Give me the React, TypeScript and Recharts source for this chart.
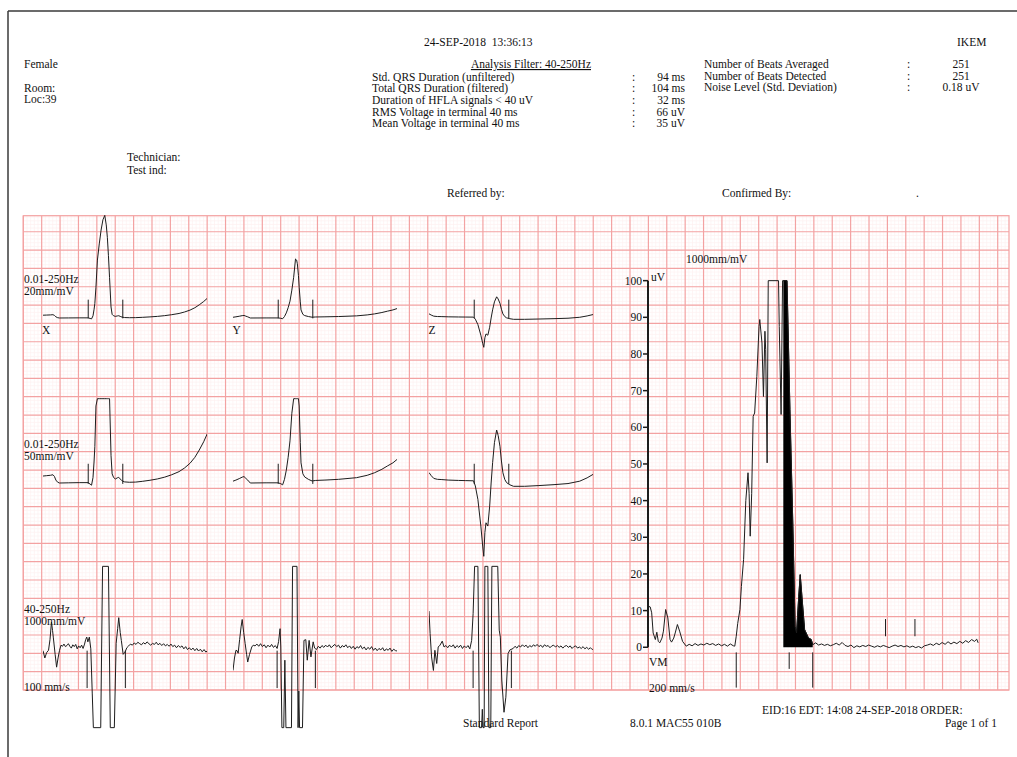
import {
  LineChart,
  ComposedChart,
  Line,
  Area,
  XAxis,
  YAxis,
  ReferenceLine,
} from "recharts";

const SERIF = '"Liberation Serif", "Times New Roman", serif';
const INK = "#1c1c1c";
const GRID_MAJOR = "#f3a2a2";
const GRID_MINOR = "#fdf0f0";

// page calibration (one big square = 5 mm)
const PX_X = 3.677; // px per mm, horizontal
const PX_Y = 3.666; // px per mm, vertical
const MS_100 = (100 * PX_X) / 1000; // 100 mm/s
const MS_200 = (200 * PX_X) / 1000; // 200 mm/s

const SPAN = 447; // ms shown per lead
const VM_SPAN = 450;

type Pt = [number, number];

// averaged beat, 0.01-250Hz, [ms, mV]
const X_STD: Pt[] = [
  [0, 0.038], [10, 0.04], [20, 0.042], [27, 0.045], [31, 0.036], [35, 0.016], [40, 0.004], [45, 0],
  [70, 0.001], [100, 0.002], [123, 0.002], [128, -0.006], [132, -0.012], [136, 0.03], [139, 0.12],
  [141, 0.2], [144, 0.42], [148, 0.79], [153, 1.01], [158, 1.2], [163, 1.34], [168, 1.4], [172, 1.27],
  [175, 1.1], [178, 0.85], [181, 0.55], [185, 0.15], [188, 0.05], [192, 0.03], [197, 0.022], [202, 0.028],
  [206, 0.031], [210, 0.022], [215, 0.012], [222, 0.006], [235, 0.004], [252, 0.005], [270, 0.009],
  [291, 0.015], [311, 0.022], [331, 0.032], [350, 0.045], [370, 0.062], [385, 0.082], [400, 0.108],
  [413, 0.14], [425, 0.18], [437, 0.225], [447, 0.27],
];
const Y_STD: Pt[] = [
  [0, 0.01], [8, 0.016], [17, 0.024], [25, 0.032], [30, 0.035], [35, 0.025], [40, 0.016], [47, 0],
  [90, 0.001], [123, 0.001], [130, -0.004], [135, -0.01], [140, 0.02], [145, 0.07], [150, 0.14],
  [155, 0.23], [160, 0.38], [165, 0.555], [170, 0.805], [173, 0.79], [175, 0.74], [178, 0.58], [180, 0.42],
  [183, 0.22], [185, 0.11], [190, 0.05], [195, 0.033], [205, 0.02], [215, 0.011], [225, 0.014],
  [250, 0.016], [287, 0.02], [336, 0.029], [365, 0.042], [385, 0.056], [405, 0.075], [420, 0.093],
  [435, 0.11], [447, 0.13],
];
const Z_STD: Pt[] = [
  [0, 0.057], [6, 0.04], [13, 0.025], [23, 0.02], [33, 0.019], [52, 0.016], [80, 0.014], [100, 0.013],
  [121, 0.012], [126, -0.016], [133, -0.09], [141, -0.235], [146, -0.344], [149, -0.4], [152, -0.27],
  [155, -0.217], [160, -0.235], [165, -0.126], [169, 0], [173, 0.111], [178, 0.22], [184, 0.289],
  [188, 0.26], [193, 0.2], [197, 0.12], [201, 0.056], [206, 0.02], [211, 0.002], [220, -0.01],
  [230, -0.018], [260, -0.018], [299, -0.014], [340, -0.009], [378, -0.003], [410, 0.01], [430, 0.028],
  [447, 0.048],
];

// averaged beat, 40-250Hz, [ms, uV]
const X_HF: Pt[] = [
  [0, -1], [5, -3], [10, -1.5], [15, -0.9], [19, 2], [23, 6.8], [26, 4.5], [28, 2.7], [33, -2], [37, -5.5],
  [41, -3], [45, -0.9], [49, 0.5], [53, 0.2], [57, 0.8], [61, 0.1], [65, 0.4], [69, 0.9], [73, 0.2],
  [77, -0.3], [81, 0.6], [85, 0.1], [89, 0.7], [93, -0.5], [97, 0.3], [101, -0.2], [105, 0.5], [109, -0.4],
  [113, 0.8], [116, 2], [119, 2.7], [122, 1.4], [126, 2.7], [130, -0.5], [134, -12.8], [137, -22],
  [157, -22], [162, 22], [178, 22], [183, -22], [194, -22], [199, 1], [203, 5], [206, 8], [210, 4],
  [213, 1.8], [218, -2], [223, -1.4], [228, -0.2], [233, 0.3], [238, 0.8], [243, 0.5], [248, 1.1],
  [253, 0.7], [258, 1.3], [263, 0.9], [268, 0.6], [273, 1.2], [278, 0.8], [283, 1.4], [288, 0.9],
  [293, 0.5], [298, 1], [303, 0.7], [308, 1.3], [313, 0.6], [318, 1], [323, 0.4], [328, 0.9], [333, 0.3],
  [338, 0.7], [343, 0.2], [348, 0.8], [353, 0.1], [358, 0.5], [363, -0.2], [368, 0.4], [373, -0.1],
  [378, 0.3], [383, -0.5], [388, 0.1], [393, -0.7], [398, -0.2], [403, -0.8], [408, -0.3], [413, -1],
  [418, -0.4], [423, -1.1], [428, -0.6], [433, -1.3], [438, -0.7], [443, -1.4], [447, -1],
];
const Y_HF: Pt[] = [
  [0, -6.4], [4, -3], [8, -0.9], [11, -1], [14, -1.7], [18, 2], [22, 5.5], [25, 7.5], [29, 4], [33, 1],
  [37, -2], [40, -4.1], [45, -2], [51, 0], [55, 0.5], [60, 0.3], [65, 0.8], [70, 0.2], [75, 0.9], [80, 0.1],
  [85, 0.6], [90, -0.2], [95, 0.5], [100, 0], [105, 0.7], [110, -0.1], [115, 0.4], [120, -0.4], [124, 1.5],
  [128, 5], [130, 0], [133, -22], [138, -22], [141, -3.6], [144, -22], [159, -22], [162, 22], [174, 22],
  [177, -22], [179, -12], [181, -22], [189, -22], [193, 1.8], [198, 2], [202, -3.6], [207, 1.8],
  [212, -2.7], [218, 1.4], [222, -0.3], [227, -0.7], [232, 0.2], [237, -0.3], [242, 0.4], [247, -0.1],
  [252, 0.5], [257, 0], [262, 0.6], [267, -0.2], [272, 0.3], [277, 0.7], [282, 0.1], [287, 0.5],
  [292, -0.3], [297, 0.4], [302, 0], [307, 0.6], [312, -0.2], [317, 0.3], [322, -0.4], [327, 0.2],
  [332, -0.6], [337, 0.1], [342, -0.3], [347, 0.4], [352, -0.5], [357, 0], [362, -0.8], [367, -0.1],
  [372, -0.6], [377, 0.1], [382, -0.9], [387, -0.3], [392, -1], [397, -0.4], [402, -0.8], [407, -0.2],
  [412, -1.1], [417, -0.5], [422, -0.9], [427, -0.3], [432, -1.2], [437, -0.6], [442, -1], [447, -1.1],
];
const Z_HF: Pt[] = [
  [0, 9.8], [3, 3.7], [7, -2.7], [12, -6.4], [16, -0.9], [21, -4.5], [25, 0], [30, 0.5], [36, 1.6], [41, 0],
  [46, 0.4], [51, -0.2], [56, 0.5], [61, 0], [66, 0.6], [71, -0.3], [76, 0.4], [81, -0.1], [86, 0.5],
  [91, -0.4], [96, 0.3], [101, -0.2], [106, 0.4], [111, -0.5], [116, 1.8], [120, 9.1], [124, 22],
  [133, 22], [137, -22], [143, -22], [145, -17], [147, -22], [150, -22], [152, 22], [160, 22], [163, -22],
  [168, -22], [171, 22], [187, 22], [191, 4.6], [194, 2.7], [198, -9], [204, -17.8], [209, -13.7],
  [215, -1.8], [220, -0.8], [229, -0.4], [234, 0.2], [239, -0.3], [244, 0.4], [249, 0], [254, 0.6],
  [259, 0.1], [264, 0.5], [269, -0.2], [274, 0.4], [279, 0], [284, 0.6], [289, 0.2], [294, 0.7],
  [299, 0.1], [304, 0.5], [309, -0.1], [314, 0.6], [319, 0.2], [324, 0.4], [329, -0.2], [334, 0.3],
  [339, 0.5], [344, 0], [349, 0.4], [354, -0.1], [359, 0.3], [364, -0.3], [369, 0.2], [374, 0.4],
  [379, -0.1], [384, 0.3], [389, -0.4], [394, 0.1], [399, 0.3], [404, -0.3], [409, 0], [414, -0.4],
  [419, 0.1], [424, -0.5], [429, -0.1], [434, -0.6], [439, -0.2], [444, -0.7], [447, -0.5],
];

// filtered vector magnitude, [ms, uV] (plotted up to 100 uV)
const VM: Pt[] = [
  [0, 11.2], [3, 11], [5, 9.4], [7, 3.9], [10, 2.1], [12, 4.1], [14, 1.6], [16, 1.2], [19, 2.5], [21, 4.4],
  [24, 10.3], [27, 8], [30, 2.1], [32, 1.4], [35, 2.5], [37, 3.9], [40, 6.2], [43, 4.4], [47, 1.6],
  [52, 0.3], [56, 0.8], [60, 0.4], [64, 1], [68, 0.5], [72, 0.9], [76, 0.6], [80, 1.1], [84, 0.7], [88, 1],
  [92, 0.5], [96, 0.9], [100, 0.4], [104, 0.8], [108, 0.3], [112, 0.9], [116, 0.4], [118, 0.3], [120, 3],
  [122, 6.5], [125, 10.3], [127, 16.6], [130, 24], [133, 40], [136, 47.6], [137.5, 42], [139, 30.3],
  [141, 42], [143, 63], [145, 63.9], [148, 73.9], [151, 87.5], [152, 89.4], [155, 83], [157, 68.4],
  [159, 86.2], [160, 81.2], [162, 50.3], [163.5, 100], [177.5, 100], [178.5, 87.5], [181, 63.5],
  [183, 100], [184, 100], [189, 100], [193, 64.8], [197, 33], [200, 5.7], [202, 3.9], [205, 13.9],
  [207, 19.8], [210, 12.1], [213, 4.8], [218, 2.6], [222, 2.1], [224, 0.7], [228, 1.2], [232, 0.6],
  [236, 0.9], [240, 0.5], [244, 0.8], [248, 0.4], [252, 0.7], [256, 1.1], [260, 0.6], [264, 1.3],
  [268, 0.5], [272, 0.2], [276, 0.6], [280, -0.1], [284, 0.4], [288, 0.1], [292, 0.5], [296, 0.2],
  [300, 0.6], [304, 0.3], [308, 0], [312, 0.4], [316, 0.1], [320, 0.5], [324, 0.2], [328, -0.1],
  [332, 0.3], [336, 0.6], [340, 0.2], [344, 0.5], [348, 0.1], [352, 0.4], [356, 0], [360, 0.3],
  [364, -0.1], [368, 0.2], [372, -0.2], [376, 0.4], [380, 0.6], [384, 0.9], [388, 0.5], [392, 1.1],
  [396, 0.7], [400, 1.3], [404, 0.8], [408, 1.5], [412, 0.9], [416, 1.4], [420, 1], [424, 1.6],
  [428, 1.1], [432, 1.8], [436, 1.3], [440, 2.1], [444, 1.6], [447, 2.2], [449, 1.2],
];
const VM_TICKS = [0, 10, 20, 30, 40, 50, 60, 70, 80, 90, 100];

// measurement marks, ms
const STD_QRS = [123, 217];
const HF_QRS = [120, 224];
const LAS_START = 192; // HFLA < 40 uV
const TERM_START = 184; // last 40 ms
const NOISE_WIN = [323, 363];

const FILTER_ROWS = [
  ["Std. QRS Duration (unfiltered)", "94 ms"],
  ["Total QRS Duration (filtered)", "104 ms"],
  ["Duration of HFLA signals < 40 uV", "32 ms"],
  ["RMS Voltage in terminal 40 ms", "66 uV"],
  ["Mean Voltage in terminal 40 ms", "35 uV"],
];
const BEAT_ROWS = [
  ["Number of Beats Averaged", "251"],
  ["Number of Beats Detected", "251"],
  ["Noise Level (Std. Deviation)", "0.18 uV"],
];

const LEADS = [
  { name: "X", left: 42.5, std: X_STD, hf: X_HF },
  { name: "Y", left: 233, std: Y_STD, hf: Y_HF },
  { name: "Z", left: 429, std: Z_STD, hf: Z_HF },
];

const ROWS = [
  { key: "std20", zeroY: 317.5, mm: 20, clip: 99, hf: false, mark: [-0.005, 0.25] },
  { key: "std50", zeroY: 483.3, mm: 50, clip: 0.46, hf: false, mark: [-0.005, 0.105] },
  { key: "hf", zeroY: 646.7, mm: 1, clip: 22, hf: true, mark: [-1, -11.2] },
];

const G_LEFT = 23.3;
const G_RIGHT = 1009;
const G_TOP = 215.7;
const G_BOTTOM = 690;

const VM_LEFT = 648;
const VM_ZERO = 647.7;

function Trace({
  pts,
  left,
  zeroY,
  mm,
  clip,
  qrs,
  mark,
}: {
  pts: Pt[];
  left: number;
  zeroY: number;
  mm: number;
  clip: number;
  qrs: number[];
  mark: number[];
}) {
  const ppu = PX_Y * mm;
  const half = 130;
  const data = pts.map(([t, v]) => ({ t, v: Math.max(-clip, Math.min(clip, v)) }));
  return (
    <div style={{ position: "absolute", left, top: zeroY - half }}>
      <LineChart
        width={SPAN * MS_100}
        height={half * 2}
        data={data}
        margin={{ top: 0, right: 0, bottom: 0, left: 0 }}
      >
        <XAxis type="number" dataKey="t" domain={[0, SPAN]} hide allowDataOverflow />
        <YAxis type="number" domain={[-half / ppu, half / ppu]} hide allowDataOverflow />
        {qrs.map((q) => (
          <ReferenceLine
            key={q}
            segment={[
              { x: q, y: mark[0] },
              { x: q, y: mark[1] },
            ]}
            stroke={INK}
            strokeWidth={1}
            ifOverflow="visible"
          />
        ))}
        <Line
          type="linear"
          dataKey="v"
          stroke={INK}
          strokeWidth={1}
          dot={false}
          activeDot={false}
          isAnimationActive={false}
        />
      </LineChart>
    </div>
  );
}

function VectorMagnitude() {
  const top = 104;
  const bottom = -14;
  const axisW = 36;
  const data = VM.map(([t, v]) => ({
    t,
    vm: v,
    term: t >= TERM_START && t <= HF_QRS[1] ? v : null,
  }));
  const lowMarks: [number, number][] = [
    [HF_QRS[0], -11],
    [LAS_START, -5.9],
    [HF_QRS[1], -11],
  ];
  return (
    <div style={{ position: "absolute", left: VM_LEFT - axisW, top: VM_ZERO - top * PX_Y }}>
      <ComposedChart
        width={axisW + VM_SPAN * MS_200}
        height={(top - bottom) * PX_Y}
        data={data}
        margin={{ top: 0, right: 0, bottom: 0, left: 0 }}
      >
        <XAxis type="number" dataKey="t" domain={[0, VM_SPAN]} hide allowDataOverflow />
        <YAxis
          type="number"
          domain={[bottom, top]}
          allowDataOverflow
          ticks={VM_TICKS}
          interval={0}
          width={axisW}
          axisLine={false}
          tickSize={5}
          tickMargin={1}
          tickLine={{ stroke: INK, strokeWidth: 1.5 }}
          tick={{ fill: "#111", fontSize: 11.5, fontFamily: SERIF }}
        />
        <ReferenceLine
          segment={[
            { x: 0, y: 0 },
            { x: 0, y: 100 },
          ]}
          stroke={INK}
          strokeWidth={2}
          ifOverflow="visible"
        />
        <Area
          type="linear"
          dataKey="term"
          baseValue={0}
          stroke="#000"
          strokeWidth={1}
          fill="#000"
          fillOpacity={1}
          dot={false}
          activeDot={false}
          isAnimationActive={false}
        />
        <Line
          type="linear"
          dataKey="vm"
          stroke={INK}
          strokeWidth={1}
          dot={false}
          activeDot={false}
          isAnimationActive={false}
        />
        {lowMarks.map(([t, y]) => (
          <ReferenceLine
            key={"l" + t}
            segment={[
              { x: t, y: -1.4 },
              { x: t, y },
            ]}
            stroke={INK}
            strokeWidth={1}
            ifOverflow="visible"
          />
        ))}
        {NOISE_WIN.map((t) => (
          <ReferenceLine
            key={"n" + t}
            segment={[
              { x: t, y: 3 },
              { x: t, y: 7.7 },
            ]}
            stroke={INK}
            strokeWidth={1}
            ifOverflow="visible"
          />
        ))}
      </ComposedChart>
    </div>
  );
}

function Page() {
  const bigX = 5 * PX_X;
  const bigY = 5 * PX_Y;
  const vMinor: number[] = [];
  const hMinor: number[] = [];
  const vMajor: number[] = [];
  const hMajor: number[] = [];
  for (let x = G_LEFT, i = 0; x < G_RIGHT - 0.5; x += bigX / 5, i++) {
    if (i % 5 === 0) vMajor.push(x);
    else vMinor.push(x);
  }
  for (let y = G_BOTTOM, i = 0; y > G_TOP + 0.5; y -= bigY / 5, i++) {
    if (i % 5 === 0) hMajor.push(y);
    else hMinor.push(y);
  }
  const t = (x: number, y: number, s: string, anchor: "start" | "middle" | "end" = "start") => (
    <text key={s + x + y} x={x} y={y} textAnchor={anchor} style={{ whiteSpace: "pre" }}>
      {s}
    </text>
  );
  return (
    <svg
      width={1017}
      height={757}
      style={{ position: "absolute", left: 0, top: 0 }}
      fontFamily={SERIF}
      fontSize={11.5}
      fill="#111"
    >
      <line x1={8} y1={11} x2={1017} y2={11} stroke="#3a3a3a" strokeWidth={1.5} />
      <line x1={8} y1={11} x2={8} y2={757} stroke="#3a3a3a" strokeWidth={1.5} />

      {vMinor.map((x) => (
        <line key={"vm" + x} x1={x} y1={G_TOP} x2={x} y2={G_BOTTOM} stroke={GRID_MINOR} strokeWidth={0.7} />
      ))}
      {hMinor.map((y) => (
        <line key={"hm" + y} x1={G_LEFT} y1={y} x2={G_RIGHT} y2={y} stroke={GRID_MINOR} strokeWidth={0.7} />
      ))}
      {vMajor.map((x) => (
        <line key={"vM" + x} x1={x} y1={G_TOP} x2={x} y2={G_BOTTOM} stroke={GRID_MAJOR} strokeWidth={1.2} />
      ))}
      {hMajor.map((y) => (
        <line key={"hM" + y} x1={G_LEFT} y1={y} x2={G_RIGHT} y2={y} stroke={GRID_MAJOR} strokeWidth={1.2} />
      ))}
      <rect
        x={G_LEFT}
        y={G_TOP}
        width={G_RIGHT - G_LEFT}
        height={G_BOTTOM - G_TOP}
        fill="none"
        stroke={GRID_MAJOR}
        strokeWidth={1.2}
      />

      {t(424, 45.5, "24-SEP-2018  13:36:13")}
      {t(957, 45.5, "IKEM")}
      {t(24, 68, "Female")}
      {t(24, 91.5, "Room:")}
      {t(24, 102.5, "Loc:39")}
      <text x={591} y={68} textAnchor="end" style={{ textDecoration: "underline" }}>
        Analysis Filter: 40-250Hz
      </text>
      {FILTER_ROWS.map(([label, val], i) => (
        <g key={label}>
          {t(372, 80.5 + i * 11.7, label)}
          {t(632, 80.5 + i * 11.7, ":")}
          {t(685, 80.5 + i * 11.7, val, "end")}
        </g>
      ))}
      {BEAT_ROWS.map(([label, val], i) => (
        <g key={label}>
          {t(704, 68 + i * 11.7, label)}
          {t(907, 68 + i * 11.7, ":")}
          {t(961, 68 + i * 11.7, val, "middle")}
        </g>
      ))}
      {t(127, 161, "Technician:")}
      {t(127, 174, "Test ind:")}
      {t(447, 197, "Referred by:")}
      {t(722, 197, "Confirmed By:")}
      {t(916, 197, ".")}

      {t(24, 283, "0.01-250Hz")}
      {t(24, 295, "20mm/mV")}
      {LEADS.map((l) => t(l.left - 0.5, 334, l.name))}
      {t(24, 448, "0.01-250Hz")}
      {t(24, 460, "50mm/mV")}
      {t(24, 613, "40-250Hz")}
      {t(24, 625, "1000mm/mV")}
      {t(24, 691, "100 mm/s")}

      {t(686, 263, "1000mm/mV")}
      {t(651, 281, "uV")}
      {t(649, 666, "VM")}
      {t(649, 692, "200 mm/s")}

      {t(762, 714, "EID:16 EDT: 14:08 24-SEP-2018 ORDER:")}
      {t(463, 727, "Standard Report")}
      {t(630, 727, "8.0.1 MAC55 010B")}
      {t(997, 727, "Page 1 of 1", "end")}
    </svg>
  );
}

export default function App() {
  return (
    <div
      style={{
        position: "absolute",
        left: 0,
        top: 0,
        width: 1017,
        height: 757,
        background: "#fff",
        overflow: "hidden",
        fontFamily: SERIF,
      }}
    >
      <Page />
      {ROWS.map((row) =>
        LEADS.map((lead) => (
          <Trace
            key={row.key + lead.name}
            pts={row.hf ? lead.hf : lead.std}
            left={lead.left}
            zeroY={row.zeroY}
            mm={row.mm}
            clip={row.clip}
            qrs={row.hf ? HF_QRS : STD_QRS}
            mark={row.mark}
          />
        ))
      )}
      <VectorMagnitude />
    </div>
  );
}
